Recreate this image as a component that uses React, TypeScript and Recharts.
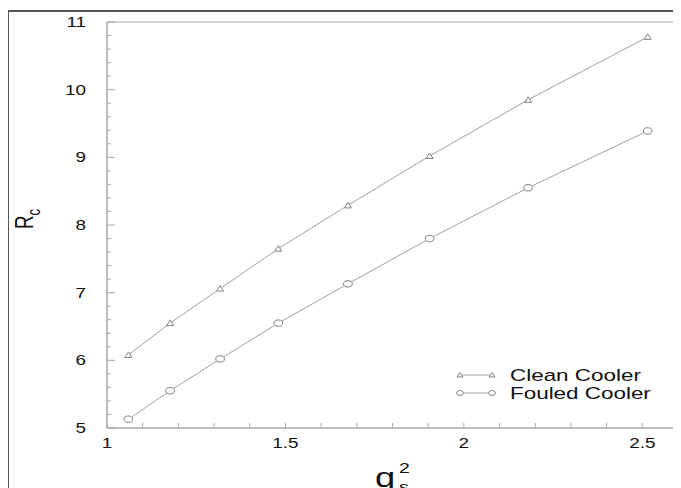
import { LineChart, Line, XAxis, YAxis, ReferenceArea, Legend, Label } from "recharts";

// q_s^2 values and R_c for both coolers
const q2 = [1.06, 1.177, 1.317, 1.48, 1.675, 1.904, 2.18, 2.515];
const cleanCooler = [6.08, 6.55, 7.06, 7.65, 8.29, 9.02, 9.85, 10.78];
const fouledCooler = [5.13, 5.55, 6.02, 6.55, 7.13, 7.8, 8.55, 9.39];

const xTicks = [1, 1.1, 1.2, 1.3, 1.4, 1.5, 1.6, 1.7, 1.8, 1.9, 2, 2.1, 2.2, 2.3, 2.4, 2.5];
const xLabels = [1, 1.5, 2, 2.5];
const yTicks = [
  5, 5.2, 5.4, 5.6, 5.8, 6, 6.2, 6.4, 6.6, 6.8, 7, 7.2, 7.4, 7.6, 7.8, 8, 8.2, 8.4, 8.6, 8.8,
  9, 9.2, 9.4, 9.6, 9.8, 10, 10.2, 10.4, 10.6, 10.8, 11,
];
const yLabels = [5, 6, 7, 8, 9, 10, 11];

const rows = q2.map((q, i) => ({ q, clean: cleanCooler[i], fouled: fouledCooler[i] }));

const FONT = "'Liberation Sans', Arial, Helvetica, sans-serif";
const AXIS = "#a8a8a8";
const LINE = "#a0a0a0";
const MARK = "#808080";
const STRETCH = 1.35;

const isMajor = (v: number, list: number[]) => list.some((m) => Math.abs(m - v) < 1e-6);

const XTick = (props: any) => {
  const { x, y, payload } = props;
  const major = isMajor(payload.value, xLabels);
  return (
    <g>
      <line x1={x} x2={x} y1={y} y2={y - 5} stroke={AXIS} />
      {major && (
        <text
          transform={`translate(${x},${y + 20}) scale(${STRETCH},1)`}
          textAnchor="middle"
          fontSize={14}
          fontFamily={FONT}
          fill="#111"
        >
          {payload.value}
        </text>
      )}
    </g>
  );
};

const YTick = (props: any) => {
  const { x, y, payload } = props;
  const major = isMajor(payload.value, yLabels);
  return (
    <g>
      <line x1={x} x2={x + (major ? 8 : 4)} y1={y} y2={y} stroke={AXIS} />
      {major && (
        <text
          transform={`translate(${x - 21},${y + 5}) scale(${STRETCH},1)`}
          textAnchor="end"
          fontSize={14}
          fontFamily={FONT}
          fill="#111"
        >
          {payload.value}
        </text>
      )}
    </g>
  );
};

const Tri = ({ cx, cy }: { cx: number; cy: number }) => (
  <path
    d={`M${cx - 3.5},${cy + 2.5} L${cx + 3.5},${cy + 2.5} L${cx},${cy - 3} Z`}
    fill="#fff"
    stroke={MARK}
    strokeWidth={1}
  />
);

const Circ = ({ cx, cy }: { cx: number; cy: number }) => (
  <ellipse cx={cx} cy={cy} rx={4.3} ry={3.2} fill="#fff" stroke={MARK} strokeWidth={1} />
);

const triDot = (p: any) => <Tri key={`t${p.index}`} cx={p.cx} cy={p.cy} />;
const circDot = (p: any) => <Circ key={`c${p.index}`} cx={p.cx} cy={p.cy} />;

const legendItems = [
  { name: "Clean Cooler", shape: "tri" },
  { name: "Fouled Cooler", shape: "circ" },
];

const renderLegend = () => (
  <svg width={230} height={42}>
    {legendItems.map((it, i) => {
      const y = 12 + i * 18;
      return (
        <g key={it.name}>
          <line x1={9} x2={41} y1={y} y2={y} stroke={LINE} />
          {it.shape === "tri" ? (
            <>
              <path d={`M${6},${y + 2} L${12},${y + 2} L${9},${y - 2.5} Z`} fill="#fff" stroke={MARK} />
              <path d={`M${38},${y + 2} L${44},${y + 2} L${41},${y - 2.5} Z`} fill="#fff" stroke={MARK} />
            </>
          ) : (
            <>
              <ellipse cx={9} cy={y} rx={3.3} ry={2.5} fill="#fff" stroke={MARK} />
              <ellipse cx={41} cy={y} rx={3.3} ry={2.5} fill="#fff" stroke={MARK} />
            </>
          )}
          <text
            transform={`translate(59,${y + 6}) scale(1.32,1)`}
            fontSize={17}
            fontFamily={FONT}
            fill="#111"
          >
            {it.name}
          </text>
        </g>
      );
    })}
  </svg>
);

const YTitle = (props: any) => {
  const { viewBox } = props;
  const bx = viewBox.x - 14;
  const cy = viewBox.y + 197;
  return (
    <text
      transform={`translate(${bx},${cy}) scale(1.35,1) rotate(-90)`}
      textAnchor="middle"
      fontSize={19}
      fontFamily={FONT}
      fill="#111"
    >
      R
      <tspan fontSize={13} dy={5}>
        c
      </tspan>
    </text>
  );
};

const XTitle = (props: any) => {
  const { viewBox } = props;
  const cx = viewBox.x + viewBox.width / 2;
  const y = viewBox.y;
  return (
    <g transform={`translate(${cx},${y}) scale(1.3,1)`}>
      <text x={-13.5} y={59} fontSize={28} fontFamily={FONT} fill="#111">
        q
      </text>
      <text x={5} y={45} fontSize={15} fontFamily={FONT} fill="#111">
        2
      </text>
      <text x={5} y={64} fontSize={15} fontFamily={FONT} fill="#111">
        s
      </text>
    </g>
  );
};

export default function App() {
  return (
    <div style={{ position: "relative", width: 673, height: 480 }}>
      <LineChart
        width={673}
        height={480}
        data={rows}
        margin={{ top: 14, right: 3, bottom: 30, left: 39 }}
      >
        <ReferenceArea x1={1} x2={2.6} y1={5} y2={11} fill="none" stroke={AXIS} strokeWidth={1} />
        <XAxis
          type="number"
          dataKey="q"
          domain={[1, 2.6]}
          ticks={xTicks}
          interval={0}
          tickSize={0}
          tickMargin={0}
          tickLine={false}
          tick={<XTick />}
          axisLine={{ stroke: AXIS }}
          height={30}
        >
          <Label content={<XTitle />} />
        </XAxis>
        <YAxis
          type="number"
          domain={[5, 11]}
          ticks={yTicks}
          interval={0}
          tickSize={0}
          tickMargin={0}
          tickLine={false}
          tick={<YTick />}
          axisLine={{ stroke: AXIS }}
          width={60}
        >
          <Label content={<YTitle />} />
        </YAxis>
        <Line
          dataKey="clean"
          name="Clean Cooler"
          stroke={LINE}
          strokeWidth={1}
          dot={triDot}
          activeDot={false}
          isAnimationActive={false}
        />
        <Line
          dataKey="fouled"
          name="Fouled Cooler"
          stroke={LINE}
          strokeWidth={1}
          dot={circDot}
          activeDot={false}
          isAnimationActive={false}
        />
        <Legend
          layout="vertical"
          align="center"
          verticalAlign="middle"
          content={renderLegend}
          wrapperStyle={{ left: 443, top: 355, width: 230, height: 42 }}
        />
      </LineChart>
      <div
        style={{
          position: "absolute",
          left: -1,
          top: 2,
          width: 674,
          height: 478,
          borderLeft: "2px solid #555",
          borderTop: "2px solid #555",
          boxSizing: "border-box",
          pointerEvents: "none",
          zIndex: 2,
        }}
      />
    </div>
  );
}
